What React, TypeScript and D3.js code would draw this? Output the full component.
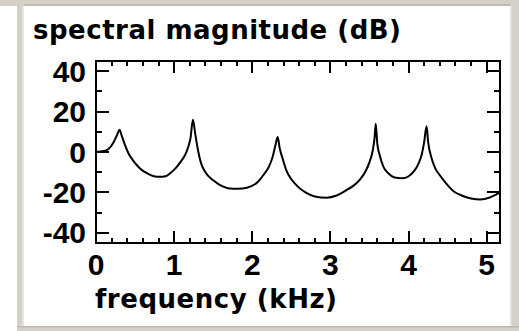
import React from "react";
import * as d3 from "d3";

const freqKHz = [0, 0.1, 0.16, 0.22, 0.27, 0.30, 0.33, 0.37, 0.42, 0.48, 0.56, 0.65, 0.74, 0.82, 0.89, 0.95, 1.02, 1.08, 1.14, 1.18, 1.21, 1.24, 1.27, 1.30, 1.34, 1.40, 1.50, 1.62, 1.75, 1.88, 1.98, 2.07, 2.15, 2.21, 2.26, 2.30, 2.325, 2.35, 2.39, 2.44, 2.50, 2.58, 2.68, 2.80, 2.95, 3.08, 3.20, 3.30, 3.38, 3.45, 3.50, 3.54, 3.565, 3.58, 3.60, 3.63, 3.68, 3.74, 3.82, 3.92, 4.00, 4.07, 4.13, 4.17, 4.20, 4.23, 4.25, 4.29, 4.34, 4.40, 4.48, 4.58, 4.68, 4.80, 4.92, 5.04, 5.17];
const magnitudeDB = [0, 0.5, 1.5, 4.5, 8.5, 11, 8, 3.5, -1, -4.5, -8, -10.5, -12, -12.3, -12, -10.5, -8, -5, -1.5, 2.5, 7, 16, 9, 2, -5, -10, -14, -17, -18.2, -18, -17, -14.8, -11, -7.5, -2.5, 4, 7.4, 2, -3.5, -9.5, -13.5, -17, -20, -22, -22.6, -21.5, -19, -16.5, -13.5, -9.5, -5, 0.5, 7, 14, 4, -1.5, -7.5, -10.5, -12.6, -13, -12, -9.5, -5.5, -1, 5, 12.7, 5, -2.5, -8, -11.5, -15.5, -19.5, -21.5, -23, -23.5, -22.5, -20];

const xTickLabels = [0, 1, 2, 3, 4, 5];
const yTickLabels = [40, 20, 0, -20, -40];
const xMinorTicks = d3.range(0, 26).map((i) => i * 0.2);
const yMinorTicks = [-40, -30, -20, -10, 0, 10, 20, 30, 40];
const xDomain = [0, 5.17];
const yDomain = [-45, 45];
const titleText = "spectral magnitude (dB)";
const xLabelText = "frequency (kHz)";

const W = 519;
const H = 331;
const L = 96, R = 500, T = 61, B = 243;
const FONT = "'Liberation Sans', Arial, sans-serif";
const TITLE_FONT = "'DejaVu Sans', 'Liberation Sans', sans-serif";

export default function App() {
  const x = d3.scaleLinear().domain(xDomain).range([L, R]);
  const y = d3.scaleLinear().domain(yDomain).range([B, T]);
  const data = freqKHz.map((f, i) => [f, magnitudeDB[i]] as [number, number]);
  const line = d3
    .line<[number, number]>()
    .x((d) => x(d[0]))
    .y((d) => y(d[1]))
    .curve(d3.curveMonotoneX);
  const isMajorX = (v: number) => Math.abs(v - Math.round(v)) < 1e-6;
  const isMajorY = (v: number) => v % 20 === 0;
  const gray = "#d4d0c8";

  return (
    <svg
      width={W}
      height={H}
      style={{ position: "absolute", left: 0, top: 0, display: "block" }}
    >
      <rect x={0} y={0} width={W} height={H} fill="#ffffff" />
      {/* window frame */}
      <rect x={0} y={0} width={W} height={6} fill={gray} />
      <rect x={17} y={4} width={W - 17} height={2} fill="#bdb9b1" />
      <rect x={17} y={0} width={7} height={H} fill={gray} />
      <rect x={22} y={6} width={2} height={320} fill="#e8e6e2" />
      <rect x={510} y={0} width={9} height={H} fill={gray} />
      <rect x={510} y={6} width={1.5} height={320} fill="#e8e6e2" />
      <rect x={17} y={326} width={W - 17} height={5} fill={gray} />
      <rect x={17} y={326} width={W - 17} height={1.5} fill="#bdb9b1" />

      <clipPath id="plotClip">
        <rect x={L} y={T} width={R - L} height={B - T} />
      </clipPath>
      <path
        d={line(data) || ""}
        fill="none"
        stroke="#000"
        strokeWidth={2}
        clipPath="url(#plotClip)"
      />

      {/* ticks */}
      <g stroke="#000" strokeWidth={2}>
        {xMinorTicks.filter((v) => v <= xDomain[1]).map((v) => {
          const len = isMajorX(v) ? 12 : 5;
          const px = Math.round(x(v));
          return (
            <g key={"xt" + v}>
              <line x1={px} x2={px} y1={B} y2={B - len} />
              <line x1={px} x2={px} y1={T} y2={T + len} />
            </g>
          );
        })}
        {yMinorTicks.map((v) => {
          const len = isMajorY(v) ? 13 : 6;
          const py = Math.round(y(v));
          return (
            <g key={"yt" + v}>
              <line x1={L} x2={L + len} y1={py} y2={py} />
              <line x1={R} x2={R - len} y1={py} y2={py} />
            </g>
          );
        })}
        <rect x={L} y={T} width={R - L} height={B - T} fill="none" />
      </g>

      {/* tick labels */}
      <g fontFamily={FONT} fontWeight="bold" fontSize={30} fill="#000">
        {yTickLabels.map((v) => (
          <text
            key={"yl" + v}
            x={86}
            y={y(v) + 10.5}
            textAnchor="end"
          >
            {v < 0 ? "-" + Math.abs(v) : String(v)}
          </text>
        ))}
        {xTickLabels.map((v) => (
          <text key={"xl" + v} x={x(v)} y={275} textAnchor="middle">
            {String(v)}
          </text>
        ))}
      </g>
      <g fontFamily={TITLE_FONT} fontWeight="bold" fontSize={26} fill="#000">
        <text x={33} y={39} textLength={368} lengthAdjust="spacing">
          {titleText}
        </text>
        <text x={95} y={308} textLength={242} lengthAdjust="spacing">
          {xLabelText}
        </text>
      </g>
    </svg>
  );
}
